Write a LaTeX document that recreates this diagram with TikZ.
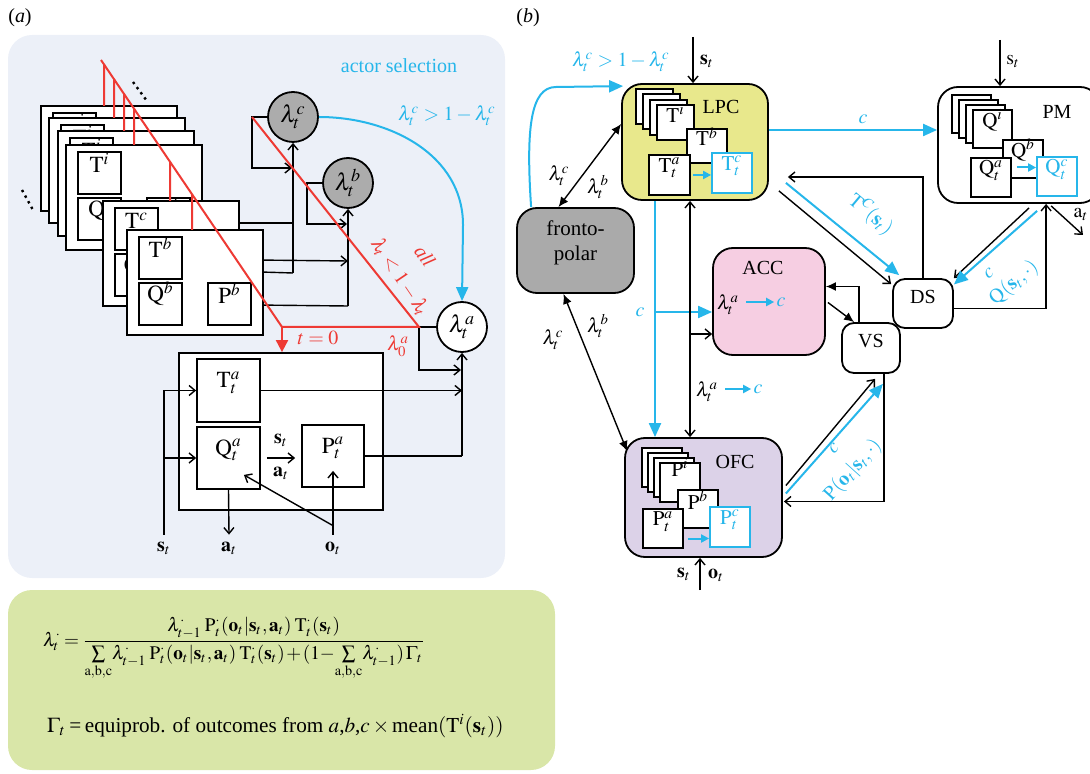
\documentclass[tikz,border=0pt]{standalone}
\usepackage{mathptmx}
\usepackage[no-math]{fontspec}
\setmainfont{Liberation Serif}
\usetikzlibrary{arrows.meta,fit,calc}

\definecolor{cyancol}{RGB}{38,182,234}
\definecolor{redcol}{RGB}{238,58,52}
\definecolor{panelbg}{RGB}{236,240,248}
\definecolor{eqbg}{RGB}{217,230,168}
\definecolor{lpcfill}{RGB}{232,232,140}
\definecolor{fpfill}{RGB}{170,170,170}
\definecolor{accfill}{RGB}{246,206,226}
\definecolor{ofcfill}{RGB}{220,210,232}
\definecolor{lamfill}{RGB}{172,172,172}

\tikzset{
  card/.style={draw, fill=white, line width=0.9pt, inner sep=0pt},
  slot/.style={card, font=\fontsize{11.5}{13}\selectfont},
  bslot/.style={card, font=\fontsize{10.5}{12}\selectfont},
  cslot/.style={bslot, draw=cyancol, text=cyancol},
  area/.style={draw, line width=0.9pt, rounded corners=10pt, inner sep=0pt},
  lam/.style={circle, draw, line width=0.9pt, minimum size=25pt, inner sep=0pt, font=\large},
  link/.style={line width=0.7pt},
  wire/.style={link, -{Straight Barb[length=3pt,width=5pt]}},
  dwire/.style={link, {Straight Barb[length=3pt,width=5pt]}-{Straight Barb[length=3pt,width=5pt]}},
  fwire/.style={link, -{Latex[length=5pt,width=4.5pt]}},
  dbl/.style={link, {Latex[length=5pt,width=4.5pt]}-{Latex[length=5pt,width=4.5pt]}},
  cwire/.style={cyancol, line width=1pt, -{Triangle[length=7pt,width=6pt]}},
  cshort/.style={cyancol, line width=1pt, -{Triangle[length=4pt,width=4pt]}},
  redwire/.style={redcol, line width=1pt},
  ctxt/.style={text=cyancol, inner sep=1pt},
  redtxt/.style={text=redcol, inner sep=1pt},
}

% one actor card: name, x, y, actor letter
\newcommand{\modcard}[4]{%
  \node[card, fit={(#2,#3) (#2+136,#3+105)}] (#1) {};
  \node[slot, fit={(#2+12,#3+7) (#2+55,#3+49)}] (#1T) {$\mathrm{T}^{#4}$};
  \node[slot, fit={(#2+12,#3+53) (#2+55,#3+95)}] (#1Q) {$\mathrm{Q}^{#4}$};
  \node[slot, fit={(#2+81,#3+53) (#2+124,#3+95)}] (#1P) {$\mathrm{P}^{#4}$};
}

\begin{document}
\begin{tikzpicture}[x=0.5pt, y=-0.5pt]
  \useasboundingbox (0,0) rectangle (1090,774);
  % Panel labels
  \node (pa) at (20,18) {(\textit{a})};
  \node (pb) at (528,18) {(\textit{b})};

  % ---------------- Panel (a) ----------------
  \node[fill=panelbg, rounded corners=12pt, inner sep=0pt, fit={(8,35) (505,578)}] (panela) {};
  % Stack of actors i, then c and b
  \foreach \k/\cx/\cy in {0/41/106, 1/49/118, 2/58/131, 3/66/145} { \modcard{ci\k}{\cx}{\cy}{i} }
  \modcard{cc}{103}{201}{c}
  \modcard{cb}{127}{230}{b}
  \draw[dotted, line width=1.2pt] (133,82) -- (147,101);
  \draw[dotted, line width=1.2pt] (22,190) -- (33,210);
  % Lambda units
  \node[lam, fill=lamfill] (lc) at (293,117) {$\lambda^c_t$};
  \node[lam, fill=lamfill] (lb) at (348,183) {$\lambda^b_t$};
  \node[lam, fill=white] (la) at (462,327) {$\lambda^a_t$};
  % Actor a box
  \node[card, fit={(179,353) (383,510)}] (abox) {};
  \node[slot, fit={(197,359) (260,422)}] (Ta) {$\mathrm{T}^a_t$};
  \node[slot, fit={(197,427) (260,489)}] (Qa) {$\mathrm{Q}^a_t$};
  \node[slot, fit={(302,425) (364,487)}] (Pa) {$\mathrm{P}^a_t$};
  % Wires into lambda c
  \coordinate (lcin) at (293,273);
  \coordinate (lcl) at (252,117);
  \draw[wire] (lcin) -- (lc.south);
  \draw[wire] (lc.west) -- (lcl) |- (292,168);
  \draw[link] ($(cc.north east)+(0,23)$) -| (lcin);
  \draw[link] ($(cb.north east)+(0,43)$) -- (lcin);
  % Wires into lambda b
  \coordinate (lbin) at (348,306);
  \draw[wire] (lbin) -- (lb.south);
  \draw[wire] (lb.west) -| (307,224) -- (347,224);
  \draw[wire] ($(cb.north east)+(0,31)$) -- (lb.south |- 0,261);
  \draw[link] ($(cb.north east)+(0,76)$) -- (lbin);
  % Wires into lambda a
  \coordinate (lain) at (462,456);
  \draw[wire] (lain) -- (la.south);
  \draw[wire] (la.west) -| (419,370) -- (461,370);
  \draw[wire] (Ta.east) -- (Ta.east -| la.south);
  \draw[link] (Pa.east) -- (lain);
  % Red selection lines
  \coordinate (rdA) at (101,60);
  \coordinate (rdB) at (282,327);
  \coordinate (rdC) at (419,327);
  \foreach \tx/\ty in {104/106, 114/118, 124/131, 134/145, 170/201, 192/230}
    \draw[redwire] ($(rdA)!{(\tx-101)/181}!(rdB)$) -- (\tx,\ty);
  \draw[redwire] (rdA) -- (rdB) -- (rdC) -- (lcl);
  \draw[redwire, -{Triangle[length=6pt,width=6pt]}] (rdB) -- (rdB |- abox.north);
  \node[redtxt] (tzero) at (318,338) {$t=0$};
  \node[redtxt] (lzero) at (398,346) {$\lambda^a_0$};
  \node[redtxt, rotate=-56] (alltxt) at (425,256) {\textit{all}};
  \node[redtxt, rotate=-56] (ltxt) at (400,277) {$\lambda_t < 1-\lambda_t$};
  % Blue actor selection
  \node[ctxt] (actsel) at (399,66) {actor selection};
  \node[ctxt] (condc) at (447,116) {$\lambda^c_t > 1-\lambda^c_t$};
  \draw[cwire] (lc.east) to[out=0,in=90] (463,225) -- (la.north);
  % Inputs and outputs of actor a
  \node (st) at (164,548) {$\mathbf{s}_t$};
  \node (at) at (229,548) {$\mathbf{a}_t$};
  \node (ot) at (333,548) {$\mathbf{o}_t$};
  \draw[wire] (st.north) |- (Ta.west);
  \draw[wire] (st.north |- Qa.west) -- (Qa.west);
  \draw[wire] (Qa.south) -- (at.north);
  \draw[wire] (ot.north) -- ($(Pa.south)+(0,-17)$);
  \draw[wire] ($(ot.north)+(0,-9)$) -- ($(Qa.south east)+(-17,-15)$);
  \draw[wire] ($(Qa.east)+(6,0)$) -- ($(Qa.east -| Pa.west)+(-6,0)$);
  \node (sa1) at (281,440) {$\mathbf{s}_t$};
  \node (sa2) at (281,473) {$\mathbf{a}_t$};

  % Update equations
  \node[fill=eqbg, rounded corners=12pt, inner sep=0pt, fit={(8,590) (555,770)}] (eqbox) {};
  \node[anchor=base west, font=\fontsize{9.6}{11}\selectfont,
        execute at begin node={\thinmuskip=1.5mu\medmuskip=1.5mu\thickmuskip=3mu}] (lameq) at (36,646)
    {$\displaystyle \lambda^{\cdot}_t = \frac{\lambda^{\cdot}_{t-1}\;\mathrm{P}^{\cdot}_t(\mathbf{o}_t|\mathbf{s}_t,\mathbf{a}_t)\;\mathrm{T}^{\cdot}_t(\mathbf{s}_t)}{\sum\limits_{\mathrm{a,b,c}}\!\lambda^{\cdot}_{t-1}\;\mathrm{P}^{\cdot}_t(\mathbf{o}_t|\mathbf{s}_t,\mathbf{a}_t)\;\mathrm{T}^{\cdot}_t(\mathbf{s}_t)+(1{-}\!\sum\limits_{\mathrm{a,b,c}}\!\lambda^{\cdot}_{t-1})\,\Gamma_t}$};
  \node[anchor=base west, font=\fontsize{10.6}{12}\selectfont] (gameq) at (40,732)
    {$\Gamma_t$\,=\,equiprob. of outcomes from $a$,$b$,$c\times{}$mean$(\mathrm{T}^i(\mathbf{s}_t))$};

  % ---------------- Panel (b) ----------------
  % LPC
  \node[area, fill=lpcfill, fit={(622,84) (768,200)}] (lpc) {};
  \node (lpcname) at (721,107) {LPC};
  \foreach \k in {3,2,1}
    \node[bslot, fit={({657-7*\k},{105-5.3*\k}) ({694-7*\k},{140-5.3*\k})}] (lpcT\k) {};
  \node[bslot, fit={(657,105) (694,140)}] (Ti) {$\mathrm{T}^i$\hspace{3pt}};
  \node[bslot, fit={(687,129) (727,163)}] (Tb) {$\mathrm{T}^b$};
  \node[bslot, fit={(649,155) (690,195)}] (Tat) {$\mathrm{T}^a_t$};
  \node[cslot, fit={(712,153) (752,193)}] (Tct) {$\mathrm{T}^c_t$};
  \draw[cshort] ($(Tat.east)+(2,0)$) -- (Tat.east -| Tct.west);
  % PM
  \node[area, fill=white, fit={(938,87) (1100,203)}] (pm) {};
  \node (pmname) at (1057,112) {PM};
  \foreach \k in {3,2,1}
    \node[bslot, fit={({973-7*\k},{110-5*\k}) ({1012-7*\k},{148-5*\k})}] (pmQ\k) {};
  \node[bslot, fit={(973,110) (1012,148)}] (Qi) {$\mathrm{Q}^i$\hspace{3pt}};
  \node[bslot, fit={(1003,140) (1043,178)}] (Qb) {$\mathrm{Q}^b$};
  \node[bslot, fit={(971,158) (1011,197)}] (Qat) {$\mathrm{Q}^a_t$};
  \node[cslot, fit={(1037,157) (1077,196)}] (Qct) {$\mathrm{Q}^c_t$};
  \draw[cshort] ($(Qat.east)+(5,-10)$) -- ($(Qat.east -| Qct.west)+(0,-10)$);
  % frontopolar, ACC, DS, VS
  \node[area, fill=fpfill, align=center, font=\fontsize{10.5}{12.5}\selectfont, fit={(517,208) (634,293)}] (fp) {fronto-\\polar};
  \node[area, fill=accfill, fit={(713,248) (825,355)}] (acc) {};
  \node (accname) at (763,268) {ACC};
  \node (accl) at (728,305) {$\lambda^a_t$};
  \node[ctxt] (accc) at (781,302) {$c$};
  \draw[cshort] (accl.east |- accc) -- (accc.west);
  \node[area, rounded corners=6pt, fill=white, fit={(893,279) (953,328)}] (ds) {DS};
  \node[area, rounded corners=6pt, fill=white, fit={(842,323) (900,373)}] (vs) {VS};
  % OFC
  \node[area, fill=ofcfill, fit={(625,438) (782,557)}] (ofc) {};
  \node (ofcname) at (735,462) {OFC};
  \foreach \k in {3,2,1}
    \node[bslot, fit={({660-6*\k},{463-5*\k}) ({700-6*\k},{502-5*\k})}] (ofcP\k) {};
  \node[bslot, fit={(660,463) (700,502)}] (Pi) {\raisebox{3pt}{$\mathrm{P}^i$}\hspace{3pt}};
  \node[bslot, fit={(678,490) (718,528)}] (Pb) {$\mathrm{P}^b$};
  \node[bslot, fit={(643,509) (683,548)}] (Pat) {$\mathrm{P}^a_t$};
  \node[cslot, fit={(710,507) (750,547)}] (Pct) {$\mathrm{P}^c_t$};
  \draw[cshort] ($(Pat.east)+(4,10)$) -- ($(Pat.east -| Pct.west)+(0,10)$);

  % Inputs
  \coordinate (lpcsrc) at (693,37);
  \draw[wire] (lpcsrc) -- (lpcsrc |- lpc.north);
  \node (lpcs) at (707,61) {$\mathbf{s}_t$};
  \coordinate (pmsrc) at (1000,40);
  \draw[wire] (pmsrc) -- (pmsrc |- pm.north);
  \node (pms) at (1013,62) {$\mathrm{s}_t$};
  \coordinate (ofcsrc) at (700,590);
  \draw[wire] (ofcsrc) -- (ofcsrc |- ofc.south);
  \node (ofcs) at (684,574) {$\mathbf{s}_t$};
  \node (ofco) at (716,575) {$\mathbf{o}_t$};
  % LPC to PM
  \coordinate (cpath) at (0,130);
  \draw[cwire] (lpc.east |- cpath) -- (pm.west |- cpath);
  \node[ctxt] (cl1) at (863,119) {$c$};
  % frontopolar links
  \draw[cwire] ($(fp.north west)+(15,0)$) .. controls (526,130) and (530,87) .. (556,87) -- ($(lpc.north west)+(2,3)$);
  \node[ctxt] (condc2) at (621,62) {$\lambda^c_t > 1-\lambda^c_t$};
  \draw[dbl] ($(fp.north)+(-17,0)$) -- ($(lpc.west)+(0,-18)$);
  \node (fpl1) at (559,176) {$\lambda^c_t$};
  \node (fpl2) at (598,187) {$\lambda^b_t$};
  \draw[dbl] ($(fp.south)+(-12,0)$) -- ($(ofc.north west)+(3,14)$);
  \node (fpl3) at (553,340) {$\lambda^c_t$};
  \node (fpl4) at (598,326) {$\lambda^b_t$};
  % LPC to OFC, branches to ACC
  \coordinate (cx) at (655,312);
  \draw[cwire] (cx |- lpc.south) -- (cx |- ofc.north);
  \draw[cwire] (cx) -- (cx -| acc.west);
  \node[ctxt] (cl2) at (640,312) {$c$};
  \coordinate (bx) at (690,334);
  \draw[dwire] (bx |- lpc.south) -- (bx |- ofc.north);
  \draw[wire] (bx) -- (bx -| acc.west);
  \node (ofcl) at (707,392) {$\lambda^a_t$};
  \node[ctxt] (ofcc) at (758,389) {$c$};
  \draw[cshort] (ofcl.east |- ofcc) -- (ofcc.west);
  % ACC and VS
  \draw[fwire] ($(vs.north)+(-12,0)$) |- ($(acc.east)+(0,-15)$);
  \draw[fwire] ($(acc.east)+(2,1)$) -- ($(vs.north west)+(13,0)$);
  % LPC and DS
  \draw[wire] ($(lpc.south east)+(10,-10)$) -- ($(ds.north west)+(-1,6)$);
  \draw[cwire] ($(lpc.south east)+(17,-18)$) -- ($(ds.north west)+(7,-3)$);
  \node[ctxt, rotate=-40] (tcl) at (871,214) {$\mathrm{T}^{C}(\mathbf{s}_t)$};
  \draw[wire] (ds.north) |- ($(lpc.east)+(19,35)$);
  % PM and DS
  \draw[wire] ($(pm.south west)+(92,4)$) -- (ds.north east);
  \draw[cwire] ($(pm.south west)+(100,7)$) -- ($(ds.east)+(0,-19)$);
  \node[ctxt, rotate=40] (qcc) at (989,273) {$c$};
  \node[ctxt, rotate=40] (qcl) at (1014,283) {$\mathrm{Q}(\mathbf{s}_t,\cdot)$};
  \draw[wire] ($(ds.east)+(0,5)$) -| ($(pm.south west)+(109,0)$);
  \coordinate (aout) at (1083,235);
  \draw[wire] ($(pm.south west)+(114,2)$) -- (aout);
  \node (pmat) at (1081,215) {$\mathrm{a}_t$};
  % OFC and VS
  \draw[wire] ($(ofc.east)+(3,-12)$) -- ($(vs.south)+(4,5)$);
  \draw[cwire] ($(ofc.east)+(3,-4)$) -- ($(vs.south east)+(-18,10)$);
  \node[ctxt, rotate=48] (pcc) at (834,448) {$c$};
  \node[ctxt, rotate=48] (pcl) at (853,470) {$\mathrm{P}(\mathbf{o}_t|\mathbf{s}_t,\cdot)$};
  \draw[wire] ($(vs.south east)+(-17,0)$) |- ($(ofc.east)+(1,4)$);
\end{tikzpicture}
\end{document}
